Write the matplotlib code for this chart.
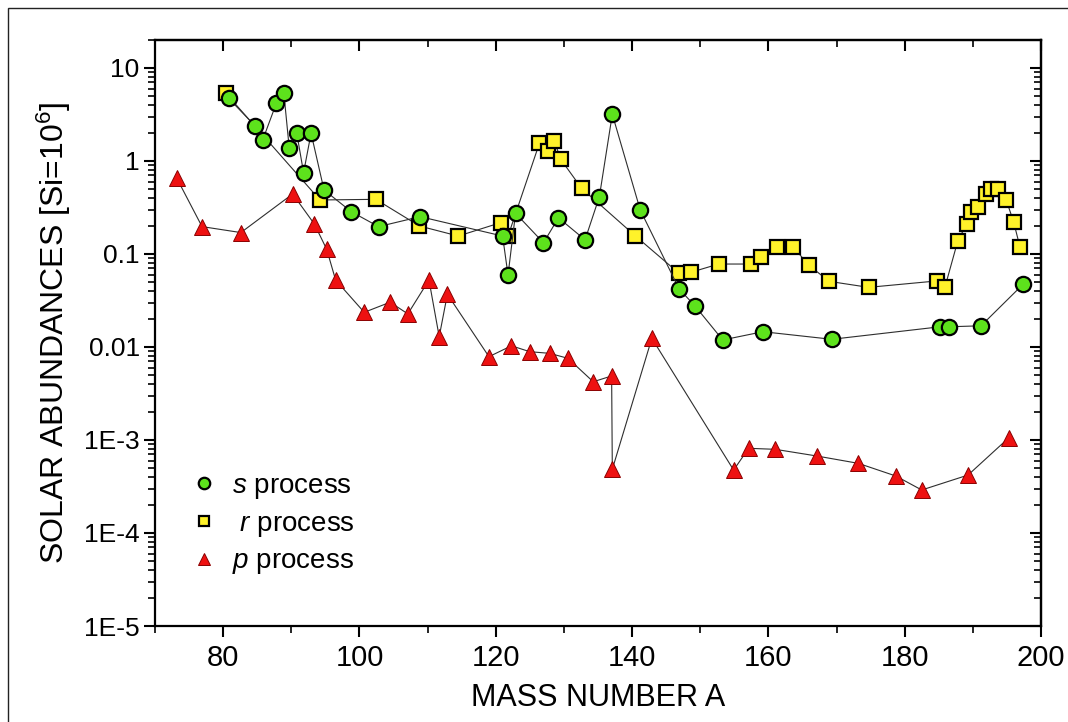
import matplotlib
matplotlib.use("Agg")
import matplotlib.pyplot as plt
from matplotlib.ticker import FixedLocator, LogLocator, NullFormatter, MultipleLocator
from matplotlib.patches import Rectangle

# ---------------- data ----------------
s_mass = [80.8, 84.7, 85.8, 87.8, 88.9, 89.7, 90.8, 91.8, 92.9, 94.8, 98.8, 102.8,
          108.9, 121.0, 121.8, 122.9, 127.0, 129.2, 133.1, 135.2, 137.1, 141.2,
          146.9, 149.2, 153.3, 159.2, 169.3, 185.2, 186.5, 191.2, 197.4]
s_abund = [4.72, 2.38, 1.68, 4.17, 5.42, 1.37, 1.99, 0.748, 1.99, 0.488, 0.285, 0.197,
           0.252, 0.156, 0.0594, 0.274, 0.132, 0.245, 0.142, 0.413, 3.18, 0.297,
           0.0421, 0.0278, 0.0119, 0.0146, 0.0121, 0.0165, 0.0165, 0.0169, 0.0475]

r_mass = [80.4, 94.2, 102.4, 108.8, 114.5, 120.7, 121.8, 126.4, 127.6, 128.6, 129.5,
          132.6, 140.5, 146.9, 148.6, 152.7, 157.5, 158.9, 161.3, 163.6, 165.9,
          168.9, 174.7, 184.7, 185.9, 187.8, 189.1, 189.7, 190.8, 192.0, 192.6,
          193.7, 194.9, 196.0, 196.9]
r_abund = [5.35, 0.381, 0.387, 0.200, 0.156, 0.217, 0.156, 1.55, 1.29, 1.65, 1.05,
           0.508, 0.156, 0.0619, 0.0635, 0.078, 0.078, 0.0922, 0.120, 0.120, 0.0762,
           0.0508, 0.0438, 0.0513, 0.0438, 0.139, 0.210, 0.285, 0.318, 0.442, 0.496,
           0.496, 0.381, 0.219, 0.120]

p_mass = [73.2, 76.9, 82.6, 90.2, 93.4, 95.2, 96.5, 100.7, 104.5, 107.1, 110.2,
          111.7, 112.9, 119.0, 122.3, 125.0, 127.9, 130.6, 134.3, 137.0, 137.1,
          142.9, 154.9, 157.1, 161.0, 167.1, 173.2, 178.7, 182.5, 189.3, 195.3]
p_abund = [0.652, 0.197, 0.170, 0.442, 0.209, 0.112, 0.0525, 0.0236, 0.0303, 0.0227,
           0.0525, 0.0129, 0.0369, 0.00787, 0.0103, 0.0089, 0.00855, 0.00755,
           0.00423, 0.00488, 0.000484, 0.0124, 0.000475, 0.000814, 0.000794,
           0.000673, 0.000561, 0.00041, 0.00029, 0.00042, 0.00106]

x_ticks = [80, 100, 120, 140, 160, 180, 200]
y_ticks = [1e-5, 1e-4, 1e-3, 1e-2, 1e-1, 1, 10]
y_ticklabels = ["1E-5", "1E-4", "1E-3", "0.01", "0.1", "1", "10"]
legend_labels = [r"$s$ process", r" $r$ process", r"$p$ process"]

# ---------------- style ----------------
plt.rcParams['font.family'] = ['Liberation Sans', 'DejaVu Sans']
plt.rcParams['mathtext.fontset'] = 'custom'
plt.rcParams['mathtext.rm'] = 'Liberation Sans'
plt.rcParams['mathtext.it'] = 'Liberation Sans:italic'

fig = plt.figure(figsize=(10.68, 7.22), dpi=100)
ax = fig.add_axes([155 / 1068, 1 - 626 / 722, 886 / 1068, 586 / 722])

line_kw = dict(color='#2e2e2e', lw=0.8)
hs, = ax.plot(s_mass, s_abund, marker='o', ms=11, mfc='#5de21c', mec='black', mew=1.6,
              label=legend_labels[0], zorder=4, **line_kw)
hr, = ax.plot(r_mass, r_abund, marker='s', ms=9.5, mfc='#fff22a', mec='black', mew=1.6,
              label=legend_labels[1], zorder=3, **line_kw)
hp, = ax.plot(p_mass, p_abund, marker='^', ms=12, mfc='#ee1111', mec='#8a0000', mew=0.7,
              label=legend_labels[2], zorder=3, **line_kw)

ax.set_yscale('log')
ax.set_xlim(70, 200)
ax.set_ylim(1e-5, 20)

ax.xaxis.set_major_locator(FixedLocator(x_ticks))
ax.xaxis.set_minor_locator(MultipleLocator(10))
ax.set_yticks(y_ticks)
ax.set_yticklabels(y_ticklabels)
ax.yaxis.set_minor_locator(LogLocator(base=10, subs=range(2, 10), numticks=20))
ax.yaxis.set_minor_formatter(NullFormatter())

for sp in ax.spines.values():
    sp.set_linewidth(1.6)

ax.tick_params(axis='both', which='major', length=8, width=1.5)
ax.tick_params(axis='both', which='minor', length=5, width=1.2)
ax.tick_params(axis='x', which='both', direction='out', top=False)
ax.tick_params(axis='y', which='both', direction='out', right=False)
ax.tick_params(axis='y', which='major', labelsize=19, pad=3)
ax.tick_params(axis='x', which='major', labelsize=21, pad=5)

# mirrored ticks on top/right pointing inward
axt = ax.secondary_xaxis('top')
axt.xaxis.set_major_locator(FixedLocator(x_ticks))
axt.xaxis.set_minor_locator(MultipleLocator(10))
axt.tick_params(which='major', direction='in', length=8, width=1.5, labeltop=False)
axt.tick_params(which='minor', direction='in', length=5, width=1.2)
axt.spines['top'].set_linewidth(1.6)
axr = ax.secondary_yaxis('right')
axr.set_yticks(y_ticks)
axr.yaxis.set_minor_locator(LogLocator(base=10, subs=range(2, 10), numticks=20))
axr.yaxis.set_minor_formatter(NullFormatter())
axr.tick_params(which='major', direction='in', length=8, width=1.5, labelright=False)
axr.tick_params(which='minor', direction='in', length=5, width=1.2)
axr.spines['right'].set_linewidth(1.6)

ax.set_xlabel('MASS NUMBER A', fontsize=22, labelpad=8)
ax.set_ylabel('SOLAR ABUNDANCES [Si=10$^{6}$]', fontsize=23, labelpad=8)

leg = ax.legend(handles=[hs, hr, hp], loc='upper left', bbox_to_anchor=(0.03, 0.28),
                frameon=False, fontsize=20, handlelength=0.8, handletextpad=0.6,
                labelspacing=0.35, markerscale=0.75, borderaxespad=0)
for h in leg.legend_handles:
    h.set_linestyle('none')

# outer border (cropped on right/bottom)
fig.patches.append(Rectangle((8 / 1068, -0.05), 1.2, 1.05 - 8 / 722,
                             transform=fig.transFigure, fill=False,
                             edgecolor='#222222', lw=1.0))

fig.savefig('out.png', dpi=100)
